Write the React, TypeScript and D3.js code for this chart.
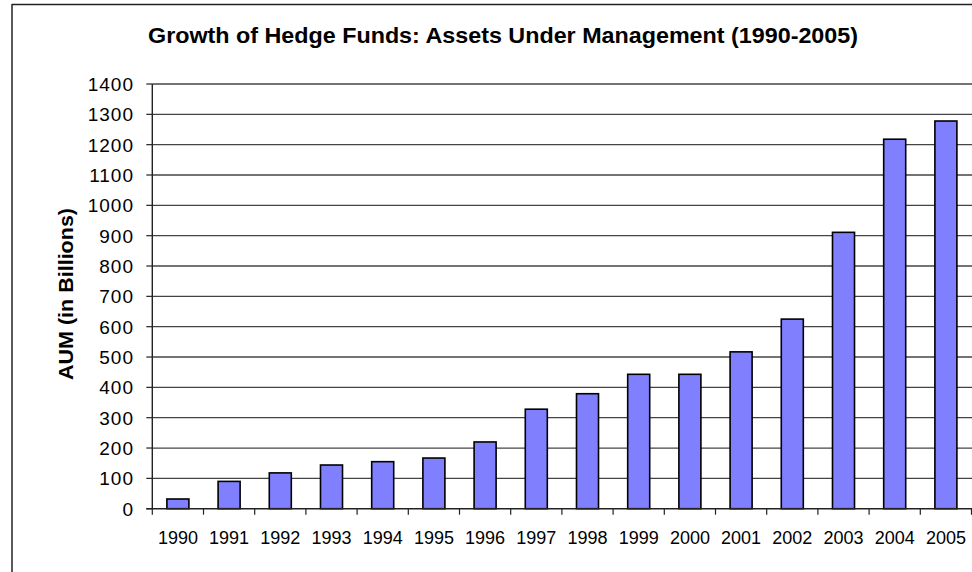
import React from "react";
import * as d3 from "d3";

const years = ["1990","1991","1992","1993","1994","1995","1996","1997","1998","1999","2000","2001","2002","2003","2004","2005"];
const aum = [32, 90, 118, 144, 155, 167, 220, 328, 379, 443, 443, 517, 625, 911, 1218, 1278];
const yTicks = [0,100,200,300,400,500,600,700,800,900,1000,1100,1200,1300,1400];
const title = "Growth of Hedge Funds: Assets Under Management (1990-2005)";
const yLabel = "AUM (in Billions)";

export default function App() {
  const W = 972, H = 572;
  const left = 152.3, right = 971.5, top = 84, bottom = 508.7;
  const y = d3.scaleLinear().domain([0, 1400]).range([bottom, top]);
  const x = d3.scaleBand<string>().domain(years).range([left, right]).paddingInner(0.57).paddingOuter(0.285);
  const step = x.step();
  const gap = (step - x.bandwidth()) / 2;
  const boundaries = years.map((d) => (x(d) as number) - gap).concat([(x(years[years.length - 1]) as number) + x.bandwidth() + gap]);
  const font = "Liberation Sans, Arial, Helvetica, sans-serif";
  return (
    <div style={{ position: "absolute", left: 0, top: 0 }}>
      <svg width={W} height={H} style={{ display: "block", background: "#fff" }}>
        <rect x={0} y={0} width={W} height={H} fill="#fff" />
        <line x1={12} x2={W} y1={4.5} y2={4.5} stroke="#222" strokeWidth={1.5} />
        <line x1={12} x2={12} y1={4} y2={H} stroke="#222" strokeWidth={1.5} />
        <text x={503} y={42.5} textAnchor="middle" fontFamily={font} fontWeight="bold" fontSize={22} textLength={710} lengthAdjust="spacingAndGlyphs" fill="#000">{title}</text>
        {yTicks.map((t) => (
          <g key={t}>
            {t > 0 && <line x1={left} x2={W} y1={y(t)} y2={y(t)} stroke="#444" strokeWidth={1.3} />}
            <line x1={left - 6} x2={left} y1={y(t)} y2={y(t)} stroke="#222" strokeWidth={1.2} />
            <text x={134} y={y(t)} dy="0.36em" textAnchor="end" fontFamily={font} fontSize={19} letterSpacing={1} fill="#000">{t}</text>
          </g>
        ))}
        {years.map((d, i) => (
          <rect key={d} x={x(d)} y={y(aum[i])} width={x.bandwidth()} height={bottom - y(aum[i])} fill="#8080FF" stroke="#000" strokeWidth={1.6} />
        ))}
        <line x1={left} x2={left} y1={top} y2={bottom} stroke="#222" strokeWidth={1.4} />
        <line x1={left - 6} x2={W} y1={bottom} y2={bottom} stroke="#222" strokeWidth={1.4} />
        {boundaries.map((b, i) => (
          <line key={i} x1={b} x2={b} y1={bottom} y2={bottom + 6} stroke="#222" strokeWidth={1.2} />
        ))}
        {years.map((d) => (
          <text key={d} x={(x(d) as number) + x.bandwidth() / 2} y={543.5} textAnchor="middle" fontFamily={font} fontSize={18} fill="#000">{d}</text>
        ))}
        <text transform={`translate(73,294) rotate(-90)`} textAnchor="middle" fontFamily={font} fontWeight="bold" fontSize={21} textLength={172} lengthAdjust="spacingAndGlyphs" fill="#000">{yLabel}</text>
      </svg>
    </div>
  );
}
